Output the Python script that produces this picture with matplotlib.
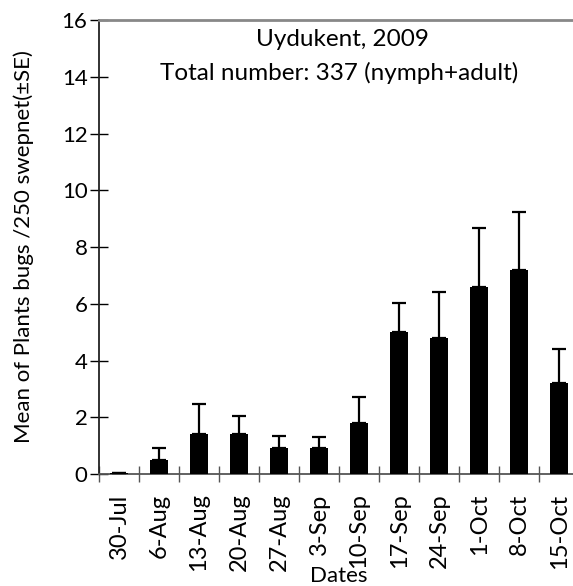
import matplotlib
matplotlib.use("Agg")
import matplotlib.pyplot as plt
import numpy as np

dates = ["30-Jul", "6-Aug", "13-Aug", "20-Aug", "27-Aug", "3-Sep", "10-Sep",
         "17-Sep", "24-Sep", "1-Oct", "8-Oct", "15-Oct"]
means = [0.02, 0.5, 1.4, 1.4, 0.9, 0.9, 1.8, 5.0, 4.8, 6.6, 7.2, 3.2]
se = [0.0, 0.4, 1.08, 0.64, 0.45, 0.4, 0.93, 1.04, 1.62, 2.06, 2.02, 1.22]
yticks = [0, 2, 4, 6, 8, 10, 12, 14, 16]

plt.rcParams["font.family"] = ["Lato", "DejaVu Sans"]

fig = plt.figure(figsize=(5.73, 5.86), dpi=100)
ax = fig.add_axes([0.1728, 0.1911, 0.8377, 0.7747])

x = np.arange(len(dates))
ax.bar(x, means, width=0.45, color="black", zorder=3)
ax.errorbar(x, means, yerr=[np.zeros(len(se)), se], fmt="none", ecolor="black",
            elinewidth=1.6, capsize=4.8, capthick=1.6, zorder=4)

ax.set_xlim(-0.5, len(dates) - 0.5)
ax.set_ylim(0, 16)
ax.set_yticks(yticks)
ax.set_xticks(x)
ax.set_xticklabels(dates, rotation=90, fontsize=17)
ax.set_xticks(np.arange(-0.5, len(dates)), minor=True)
ax.tick_params(axis="x", which="major", length=0, pad=14)
ax.tick_params(axis="x", which="minor", direction="inout", length=11.5, width=1.0, color="#555555")
ax.tick_params(axis="y", direction="inout", length=12.5, width=1.0, labelsize=16, pad=2)

ax.spines["right"].set_visible(False)
ax.spines["top"].set_color("#888888")
ax.spines["top"].set_linewidth(2.0)
ax.spines["left"].set_color("#222222")
ax.spines["left"].set_linewidth(1.3)
ax.spines["bottom"].set_color("#555555")
ax.spines["bottom"].set_linewidth(1.3)

ax.set_ylabel("Mean of Plants bugs /250 swepnet(\u00b1SE)", fontsize=16)
ax.yaxis.set_label_coords(-0.135, 0.5)
ax.set_xlabel("Dates", fontsize=16)
ax.xaxis.set_label_coords(0.5, -0.203)

fig.text(342 / 573, 1 - 40 / 586, "Uydukent, 2009", ha="center", va="center", fontsize=17.5)
fig.text(339 / 573, 1 - 73 / 586, "Total number: 337 (nymph+adult)", ha="center",
         va="center", fontsize=17.5)

fig.savefig("out.png", dpi=100)
